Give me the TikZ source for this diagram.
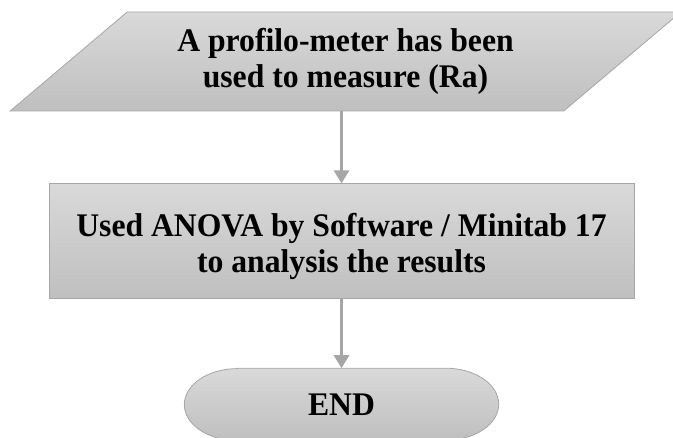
\documentclass[tikz,border=0pt]{standalone}
\usepackage{fontspec}
\setmainfont{Liberation Serif}[FakeStretch=0.96]
\usetikzlibrary{arrows.meta, positioning}
\usetikzlibrary{shapes.geometric, backgrounds}

\definecolor{boxtop}{HTML}{D9D9D9}
\definecolor{boxbottom}{HTML}{BFBFBF}
\definecolor{boxline}{HTML}{A6A6A6}

\begin{document}
\begin{tikzpicture}[
    >={Triangle[length=13pt, width=15pt]},
    box/.style={
        draw=boxline,
        line width=0.8pt,
        top color=boxtop,
        bottom color=boxbottom,
        align=center,
        font=\fontsize{33}{36}\selectfont\bfseries,
        inner sep=0pt
    },
    inputbox/.style={
        box,
        trapezium,
        trapezium left angle=36.3,
        trapezium right angle=143.7,
        trapezium stretches=true,
        minimum width=675pt,
        minimum height=99pt
    },
    processbox/.style={
        box,
        rectangle,
        minimum width=585pt,
        minimum height=115pt
    },
    terminal/.style={
        rectangle,
        align=center,
        font=\fontsize{33}{36}\selectfont\bfseries,
        minimum width=314pt,
        minimum height=72pt,
        inner sep=0pt
    },
    flow/.style={
        ->,
        draw=boxline,
        line width=3pt
    }
]

\useasboundingbox (0,0) rectangle (673pt,438pt);

% Entrada: medicao da rugosidade
\node[inputbox] (medicao) at (345.5pt,376.5pt) {%
    A profilo-meter has been\\
    used to measure (Ra)%
};

% Processo: analise estatistica
\node[processbox, below=72pt of medicao, xshift=-4pt] (anova) {%
    \raisebox{-6pt}[\height][\depth]{\begin{tabular}{@{}c@{}}
    Used ANOVA by Software / Minitab 17\\
    to analysis the results
    \end{tabular}}%
};

% Terminal
\node[terminal, below=69pt of anova] (fim) {END};

\begin{scope}[on background layer]
\path[draw=boxline, line width=0.8pt, top color=boxtop, bottom color=boxbottom]
    ([xshift=53pt]fim.north west) -- ([xshift=-53pt]fim.north east)
    arc[start angle=90, end angle=-90, x radius=53pt, y radius=36pt]
    -- ([xshift=53pt]fim.south west)
    arc[start angle=270, end angle=90, x radius=53pt, y radius=36pt]
    -- cycle;
\end{scope}

% Setas de fluxo
\draw[flow] (anova.north |- medicao.south) -- (anova.north);
\draw[flow] (anova.south) -- (fim.north);

\end{tikzpicture}
\end{document}
